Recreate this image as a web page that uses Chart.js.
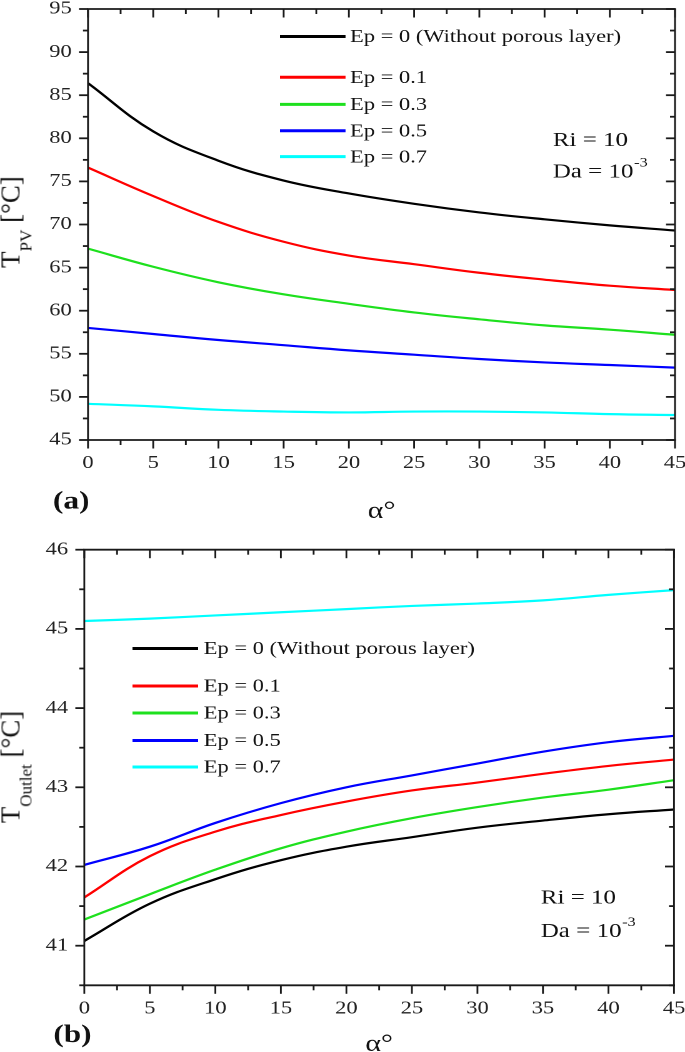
<!DOCTYPE html>
<html><head><meta charset="utf-8">
<script src="https://cdn.jsdelivr.net/npm/chart.js@4"></script>
<style>
html,body{margin:0;padding:0;background:#fff;width:685px;height:1052px;overflow:hidden;position:relative}
.wrap{position:absolute;left:0;transform:scaleX(1.25);transform-origin:0 0}
.yt{position:absolute;white-space:nowrap;font-family:"Liberation Serif",serif;font-size:27px;color:#111;transform:translate(-50%,-50%) rotate(-90deg);line-height:1}
.yt sub{font-size:17px;vertical-align:baseline;position:relative;top:12px}
</style></head>
<body>
<div class="wrap" style="top:0;width:549px;height:525px"><canvas id="ca"></canvas></div>
<div class="wrap" style="top:525px;width:549px;height:527px"><canvas id="cb"></canvas></div>
<div class="yt" style="left:11px;top:222px">T<sub>PV</sub> [°C]</div>
<div class="yt" style="left:11px;top:767px">T<sub>Outlet</sub> [°C]</div>
<script>
// ---- data ----
const alpha = [0, 5, 10, 15, 20, 25, 30, 35, 40, 45];
const seriesLabels = ['Ep = 0 (Without porous layer)', 'Ep = 0.1', 'Ep = 0.3', 'Ep = 0.5', 'Ep = 0.7'];
const seriesColors = ['#000000', '#ff0000', '#1ee01e', '#0000ff', '#00ffff'];

// (a) T_PV
const tpvEp0  = [86.4, 80.8, 77.4, 75.1, 73.6, 72.4, 71.4, 70.6, 69.9, 69.3];
const tpvEp01 = [76.6, 73.3, 70.3, 68.0, 66.4, 65.4, 64.4, 63.6, 62.9, 62.4];
const tpvEp03 = [67.2, 65.1, 63.3, 61.9, 60.8, 59.8, 59.0, 58.3, 57.8, 57.2];
const tpvEp05 = [58.0, 57.3, 56.6, 56.0, 55.4, 54.9, 54.4, 54.0, 53.7, 53.4];
const tpvEp07 = [49.2, 48.9, 48.5, 48.3, 48.2, 48.3, 48.3, 48.2, 48.0, 47.9];

// (b) T_Outlet
const toutEp0  = [41.06, 41.53, 41.84, 42.08, 42.25, 42.37, 42.49, 42.58, 42.66, 42.72];
const toutEp01 = [41.61, 42.13, 42.44, 42.65, 42.82, 42.96, 43.06, 43.17, 43.27, 43.35];
const toutEp03 = [41.33, 41.65, 41.96, 42.23, 42.44, 42.61, 42.75, 42.87, 42.97, 43.09];
const toutEp05 = [42.02, 42.25, 42.55, 42.80, 43.00, 43.15, 43.30, 43.45, 43.57, 43.65];
const toutEp07 = [45.10, 45.13, 45.17, 45.21, 45.25, 45.29, 45.32, 45.36, 45.43, 45.49];

const xTicks  = [0, 5, 10, 15, 20, 25, 30, 35, 40, 45];
const yTicksA = [45, 50, 55, 60, 65, 70, 75, 80, 85, 90, 95];
const yTicksB = [41, 42, 43, 44, 45, 46];

const S = 1.25; // horizontal stretch of the wrappers
const FONT = '"Liberation Serif", "Times New Roman", serif';

function ln(ctx, x1, y1, x2, y2) { ctx.beginPath(); ctx.moveTo(x1, y1); ctx.lineTo(x2, y2); ctx.stroke(); }

const framePlugin = {
  id: 'frame',
  afterDraw(chart, args, o) {
    const { ctx, chartArea: a, scales: { x, y } } = chart;
    ctx.save();
    ctx.strokeStyle = '#1a1a1a';
    ctx.lineCap = 'butt';
    ctx.lineWidth = 1.8;
    ln(ctx, a.left - 0.8, a.top, a.right + 0.8, a.top);
    ln(ctx, a.left - 0.8, a.bottom, a.right + 0.8, a.bottom);
    ctx.lineWidth = 1.8 / S;
    ln(ctx, a.left, a.top, a.left, a.bottom);
    ln(ctx, a.right, a.top, a.right, a.bottom);
    for (let k = 0; k <= 18; k++) {
      const v = k * 2.5, px = x.getPixelForValue(v), major = k % 2 === 0;
      const L = major ? 8.5 : 5;
      ln(ctx, px, a.bottom, px, a.bottom + L);
      ln(ctx, px, a.top, px, a.top + L);
    }
    ctx.lineWidth = 1.8;
    const n = Math.round((o.yMax - o.yMin) / o.yMinor);
    for (let k = 0; k <= n; k++) {
      const v = o.yMin + k * o.yMinor, py = y.getPixelForValue(v);
      const major = Math.abs(v / o.yMajor - Math.round(v / o.yMajor)) < 1e-6;
      const L = (major ? 9 : 5) / S;
      ln(ctx, a.left - L, py, a.left, py);
      ln(ctx, a.right - L, py, a.right, py);
    }
    ctx.restore();
  }
};

const annPlugin = {
  id: 'ann',
  afterDraw(chart, args, o) {
    const { ctx, chartArea: a } = chart;
    ctx.save();
    seriesLabels.forEach((lab, i) => {
      const yy = o.legY[i];
      ctx.strokeStyle = seriesColors[i];
      ctx.lineWidth = 3;
      ln(ctx, o.lx0, yy, o.lx1, yy);
      ctx.fillStyle = '#111';
      ctx.font = '18px ' + FONT;
      ctx.textBaseline = 'middle';
      ctx.textAlign = 'left';
      ctx.fillText(lab, o.tx, yy + 1);
    });
    ctx.font = '20px ' + FONT;
    ctx.fillStyle = '#111';
    ctx.textBaseline = 'middle';
    ctx.fillText('Ri = 10', o.rx, o.riY);
    const base = 'Da = 10';
    ctx.fillText(base, o.rx, o.daY);
    const w = ctx.measureText(base).width;
    ctx.font = '13px ' + FONT;
    ctx.fillText('-3', o.rx + w + 0.5, o.daY - 9);
    ctx.font = '24px ' + FONT;
    ctx.textBaseline = 'alphabetic';
    ctx.textAlign = 'center';
    ctx.fillText('α°', (a.left + a.right) / 2, o.axY);
    ctx.font = 'bold 25px ' + FONT;
    ctx.textAlign = 'left';
    ctx.fillText(o.tag, o.tagX, o.tagY);
    ctx.restore();
  }
};

function build(id, W, H, series, yMin, yMax, yTicks, yMajor, yMinor, pad, yWidth, xHeight, ann) {
  const el = document.getElementById(id);
  el.width = W; el.height = H;
  el.style.width = W + 'px'; el.style.height = H + 'px';
  const tickFont = { family: FONT, size: 18, lineHeight: 1 };
  return new Chart(el, {
    type: 'line',
    data: {
      datasets: series.map((s, i) => ({
        label: seriesLabels[i],
        data: alpha.map((av, j) => ({ x: av, y: s[j] })),
        borderColor: seriesColors[i],
        borderWidth: 2.2,
        pointRadius: 0,
        fill: false,
        tension: 0.4
      }))
    },
    options: {
      responsive: false,
      animation: false,
      devicePixelRatio: 2,
      layout: { padding: pad },
      plugins: {
        legend: { display: false },
        tooltip: { enabled: false },
        frame: { yMin, yMax, yMajor, yMinor },
        ann: ann
      },
      scales: {
        x: {
          type: 'linear', min: 0, max: 45,
          grid: { display: false, drawTicks: false },
          border: { display: false },
          afterBuildTicks: s => { s.ticks = xTicks.map(v => ({ value: v })); },
          afterFit: s => { s.height = xHeight; s.paddingLeft = 0; s.paddingRight = 0; },
          ticks: { padding: 14.5, font: tickFont, color: '#222', maxRotation: 0, autoSkip: false }
        },
        y: {
          type: 'linear', min: yMin, max: yMax,
          grid: { display: false, drawTicks: false },
          border: { display: false },
          afterBuildTicks: s => { s.ticks = yTicks.map(v => ({ value: v })); },
          afterFit: s => { s.width = yWidth; s.paddingTop = 0; s.paddingBottom = 0; },
          ticks: { padding: 13, font: tickFont, color: '#222', autoSkip: false }
        }
      }
    },
    plugins: [framePlugin, annPlugin]
  });
}

build('ca', 549, 525,
  [tpvEp0, tpvEp01, tpvEp03, tpvEp05, tpvEp07],
  45, 95, yTicksA, 5, 2.5,
  { left: 0, top: 9, right: 9, bottom: 0 }, 70.4, 85,
  { legY: [36.5, 77.2, 104.4, 130.8, 156.6], lx0: 224, lx1: 276.4, tx: 280,
    rx: 442.2, riY: 140.7, daY: 172, axY: 518, tag: '(a)', tagX: 42.4, tagY: 508.5 });

build('cb', 549, 527,
  [toutEp0, toutEp01, toutEp03, toutEp05, toutEp07],
  40.5, 46, yTicksB, 1, 0.5,
  { left: 0, top: 24.7, right: 9.8, bottom: 0 }, 67.44, 66.7,
  { legY: [123.5, 161, 188, 215.5, 242], lx0: 106, lx1: 158.5, tx: 163,
    rx: 432.6, riY: 373.3, daY: 406.7, axY: 526, tag: '(b)', tagX: 42.7, tagY: 517 });
</script>
</body></html>
